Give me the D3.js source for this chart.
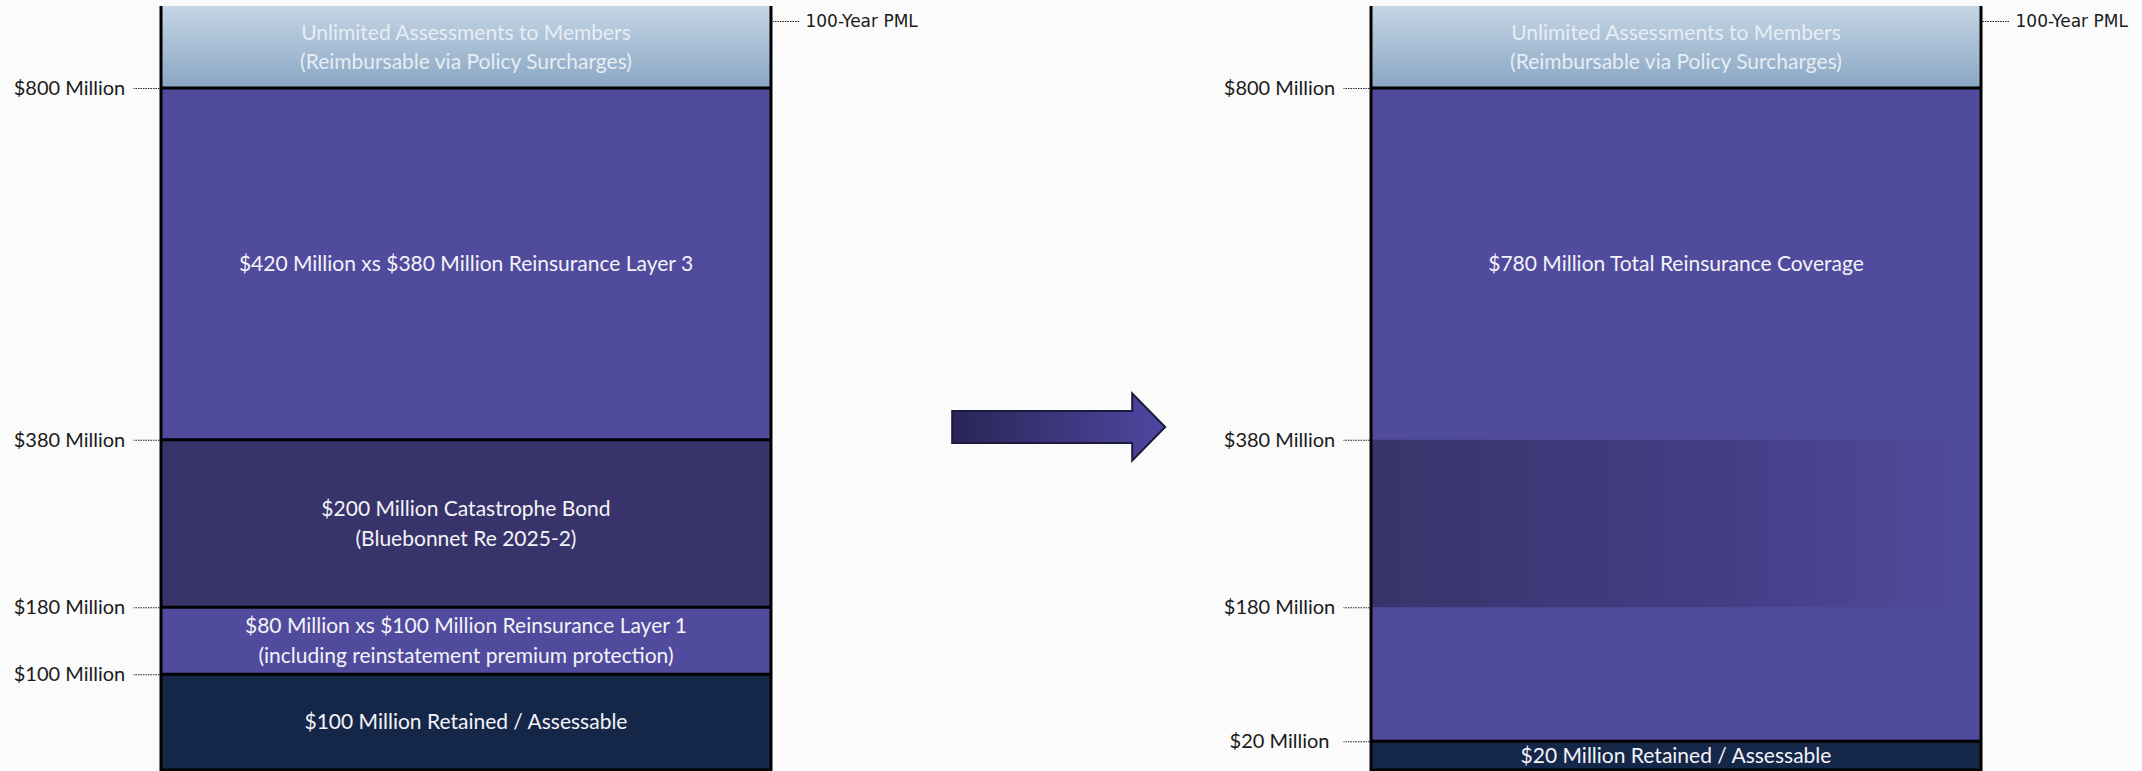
<!DOCTYPE html>
<html><head><meta charset="utf-8">
<script src="https://cdn.jsdelivr.net/npm/d3@7"></script>
<style>
html,body{margin:0;padding:0;background:#fbfbfb;}
svg{display:block;}
</style></head><body>
<svg id="chart" width="2142" height="771"></svg>
<script>
// ---------------- data ----------------
const panels = ["current", "proposed"];

// Current program: layer boundaries ($ millions)
const currentBounds = [0, 100, 180, 380, 800];
const currentKinds = ["retained", "reinsurance", "catbond", "reinsurance"];
const currentLabels = [
  ["$100 Million Retained / Assessable"],
  ["$80 Million xs $100 Million Reinsurance Layer 1", "(including reinstatement premium protection)"],
  ["$200 Million Catastrophe Bond", "(Bluebonnet Re 2025-2)"],
  ["$420 Million xs $380 Million Reinsurance Layer 3"]
];
const currentTicks = [100, 180, 380, 800];

// Proposed program
const proposedBounds = [0, 20, 800];
const proposedKinds = ["retained", "reinsurance"];
const proposedLabels = [
  ["$20 Million Retained / Assessable"],
  ["$780 Million Total Reinsurance Coverage"]
];
const proposedLabelRanges = [[0, 20], [380, 800]];
const proposedShade = [180, 380];
const proposedTicks = [20, 180, 380, 800];

const assessLabels = ["Unlimited Assessments to Members", "(Reimbursable via Policy Surcharges)"];
const topValue = 898;
const pmlValue = 880;
const pmlLabel = "100-Year PML";
const tickLabel = v => "$" + v + " Million";

// ---------------- layout ----------------
const colors = {retained: "#152749", reinsurance: "#514b9d", catbond: "#38336a", text: "#f3f3f8", assessText: "#e6edf4"};
const W = 2142, H = 771, plotBottom = 770;
const svg = d3.select("#chart");

const x = d3.scaleBand().domain(panels).range([161, 1981]).paddingInner(0.4959).paddingOuter(0);
const y = d3.scaleLinear().domain([0, 800]).range([758, 88]);
const yPos = v => v === 0 ? plotBottom : y(v);
const bw = x.bandwidth();

const defs = svg.append("defs");
const gTop = defs.append("linearGradient").attr("id", "gradTop").attr("x1", 0).attr("y1", 0).attr("x2", 0).attr("y2", 1);
gTop.append("stop").attr("offset", "0%").attr("stop-color", "#c6d6e5");
gTop.append("stop").attr("offset", "100%").attr("stop-color", "#89a6c3");
const gShade = defs.append("linearGradient").attr("id", "gradShade").attr("x1", 0).attr("y1", 0).attr("x2", 1).attr("y2", 0);
gShade.append("stop").attr("offset", "0%").attr("stop-color", "#38346a");
gShade.append("stop").attr("offset", "55%").attr("stop-color", "#443d84");
gShade.append("stop").attr("offset", "100%").attr("stop-color", "#514b9d");
const gArrow = defs.append("linearGradient").attr("id", "gradArrow").attr("x1", 0).attr("y1", 0).attr("x2", 1).attr("y2", 0);
gArrow.append("stop").attr("offset", "0%").attr("stop-color", "#2a2556");
gArrow.append("stop").attr("offset", "100%").attr("stop-color", "#4e47a2");

const textFont = "Lato, 'Open Sans', sans-serif";

function drawPanel(key, bounds, kinds, labels, labelRanges, ticks, shade) {
  const x0 = x(key), x1 = x0 + bw, cx = x0 + bw / 2;
  const g = svg.append("g");
  const layers = kinds.map((k, i) => ({lo: bounds[i], hi: bounds[i + 1], kind: k, lines: labels[i],
    range: labelRanges ? labelRanges[i] : [bounds[i], bounds[i + 1]]}));

  // top assessment band
  g.append("rect").attr("x", x0).attr("width", bw)
    .attr("y", y(topValue)).attr("height", y(800) - y(topValue)).attr("fill", "url(#gradTop)");

  g.selectAll("rect.layer").data(layers).join("rect").attr("class", "layer")
    .attr("x", x0).attr("width", bw)
    .attr("y", d => yPos(d.hi)).attr("height", d => yPos(d.lo) - yPos(d.hi))
    .attr("fill", d => colors[d.kind]);

  if (shade) {
    g.append("rect").attr("x", x0).attr("width", bw)
      .attr("y", y(shade[1])).attr("height", y(shade[0]) - y(shade[1]))
      .attr("fill", "url(#gradShade)");
  }

  // separators
  const seps = bounds.slice(1);
  g.selectAll("line.sep").data(seps).join("line").attr("class", "sep")
    .attr("x1", x0).attr("x2", x1).attr("y1", d => y(d)).attr("y2", d => y(d))
    .attr("stroke", "#000").attr("stroke-width", 3);
  g.append("line").attr("x1", x0).attr("x2", x1).attr("y1", plotBottom).attr("y2", plotBottom)
    .attr("stroke", "#000").attr("stroke-width", 3);
  [x0, x1].forEach(xx => g.append("line").attr("x1", xx).attr("x2", xx)
    .attr("y1", y(topValue)).attr("y2", plotBottom + 1.5).attr("stroke", "#000").attr("stroke-width", 3));

  // layer labels
  const lh = 30;
  layers.forEach(d => {
    const cy = (yPos(d.range[0]) + yPos(d.range[1])) / 2;
    const n = d.lines.length;
    d.lines.forEach((t, i) => {
      g.append("text").attr("x", cx).attr("y", cy + (i - (n - 1) / 2) * lh)
        .attr("dy", "0.35em").attr("text-anchor", "middle")
        .style("font-family", textFont).style("font-size", "21px").attr("fill", colors.text).text(t);
    });
  });
  const acy = (y(topValue) + y(800)) / 2;
  assessLabels.forEach((t, i) => {
    g.append("text").attr("x", cx).attr("y", acy + (i - 0.5) * 29)
      .attr("dy", "0.35em").attr("text-anchor", "middle")
      .style("font-family", textFont).style("font-size", "21px").attr("fill", colors.assessText).text(t);
  });

  // left axis ticks
  const ax = svg.append("g").attr("transform", `translate(${x0 - 1.5},0)`)
    .call(d3.axisLeft(y).tickValues(ticks).tickFormat(tickLabel).tickSizeInner(26).tickSizeOuter(0).tickPadding(64));
  ax.select(".domain").remove();
  ax.selectAll(".tick line").attr("stroke", "#222").attr("stroke-width", 1).attr("stroke-dasharray", "1.5,1");
  ax.selectAll(".tick text").attr("text-anchor", "middle").attr("fill", "#1a1a1a")
    .style("font-family", textFont).style("font-size", "20px");

  // PML marker
  const pm = svg.append("g").attr("transform", `translate(${x1 + 1.5},0)`)
    .call(d3.axisRight(y).tickValues([pmlValue]).tickFormat(() => pmlLabel).tickSizeInner(27).tickSizeOuter(0).tickPadding(6));
  pm.select(".domain").remove();
  pm.selectAll(".tick line").attr("stroke", "#222").attr("stroke-width", 1).attr("stroke-dasharray", "1.5,1");
  pm.selectAll(".tick text").attr("fill", "#1a1a1a")
    .style("font-family", "'DejaVu Sans', Verdana, sans-serif").style("font-size", "17px");
}

drawPanel("current", currentBounds, currentKinds, currentLabels, null, currentTicks, null);
drawPanel("proposed", proposedBounds, proposedKinds, proposedLabels, proposedLabelRanges, proposedTicks, proposedShade);

// arrow between panels
const gapL = x("current") + bw, gapR = x("proposed");
const gap = gapR - gapL;
const ax0 = gapL + gap * 0.302, ax1 = gapL + gap * 0.657, ahx = ax1 - 33;
const ay = 427, sh = 16, hh = 33.5;
const arrowPath = `M${ax0},${ay - sh} L${ahx},${ay - sh} L${ahx},${ay - hh} L${ax1},${ay} L${ahx},${ay + hh} L${ahx},${ay + sh} L${ax0},${ay + sh} Z`;
svg.append("path").attr("d", arrowPath).attr("fill", "url(#gradArrow)")
  .attr("stroke", "#1c1a3e").attr("stroke-width", 2).attr("stroke-linejoin", "miter");
</script>
</body></html>
